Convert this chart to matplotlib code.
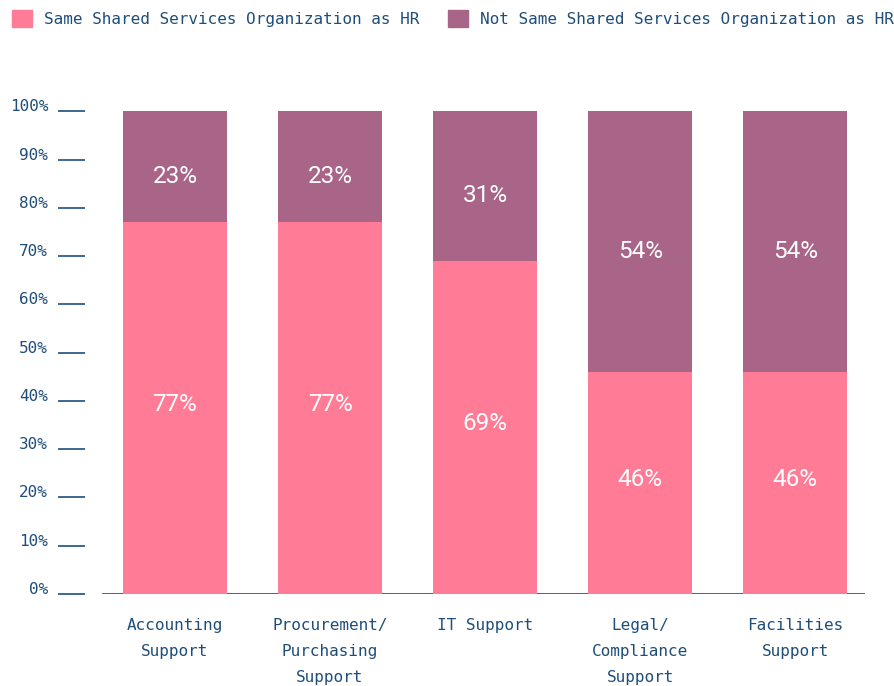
import matplotlib.pyplot as plt
import matplotlib.transforms as mtransforms
from matplotlib.patches import Patch

categories = ['Accounting\nSupport', 'Procurement/\nPurchasing\nSupport', 'IT Support',
              'Legal/\nCompliance\nSupport', 'Facilities\nSupport']
same_org = [77, 77, 69, 46, 46]
not_same_org = [23, 23, 31, 54, 54]
y_ticks = [0, 10, 20, 30, 40, 50, 60, 70, 80, 90, 100]

pink = '#FF7B96'
purple = '#A96587'
navy = '#1F4E7A'
mono = 'DejaVu Sans Mono'

fig = plt.figure(figsize=(8.94, 6.86), dpi=100)
ax = fig.add_axes([85 / 894, 92 / 686, 780 / 894, 0.7035])

x = list(range(len(categories)))
ax.bar(x, same_org, width=0.67, color=pink, zorder=2)
ax.bar(x, not_same_org, width=0.67, bottom=same_org, color=purple, zorder=2)

# value labels
for i in x:
    ax.text(i, same_org[i] / 2 + 0.8, f'{same_org[i]}%', ha='center', va='center',
            color='white', fontsize=17.5, family='Roboto')
    ax.text(i, same_org[i] + not_same_org[i] / 2 - 2.0, f'{not_same_org[i]}%',
            ha='center', va='center', color='white', fontsize=17.5, family='Roboto')

ax.set_xlim(-0.58, 4.45)
ax.set_ylim(0, 100)

# baseline, detached from the tick marks
ax.axhline(0, xmin=(0.58 - 0.465) / 5.03, xmax=1, color=navy, lw=1.2, zorder=1)

for s in ax.spines.values():
    s.set_visible(False)

ax.set_yticks(y_ticks)
ax.set_yticklabels([f'{t}%' for t in y_ticks], family=mono, fontsize=11.5, color=navy)
ax.tick_params(axis='y', length=19.5, width=1.2, color=navy, pad=7)
offset = mtransforms.ScaledTranslation(0, 6 / 100, fig.dpi_scale_trans)
for lab in ax.get_yticklabels():
    lab.set_transform(lab.get_transform() + offset)

ax.set_xticks(x)
ax.set_xticklabels(categories, family=mono, fontsize=11.5, color=navy, linespacing=1.95)
ax.tick_params(axis='x', length=0, pad=17)

handles = [Patch(color=pink, label='Same Shared Services Organization as HR'),
           Patch(color=purple, label='Not Same Shared Services Organization as HR')]
fig.legend(handles=handles, loc='upper left', bbox_to_anchor=(12 / 894, 1 - 10 / 686),
           ncol=2, frameon=False, prop={'family': mono, 'size': 11.5},
           handlelength=1.25, handleheight=1.25, handletextpad=0.75, columnspacing=1.8,
           labelcolor=navy, borderaxespad=0, borderpad=0)

fig.savefig('out.png', dpi=100)
